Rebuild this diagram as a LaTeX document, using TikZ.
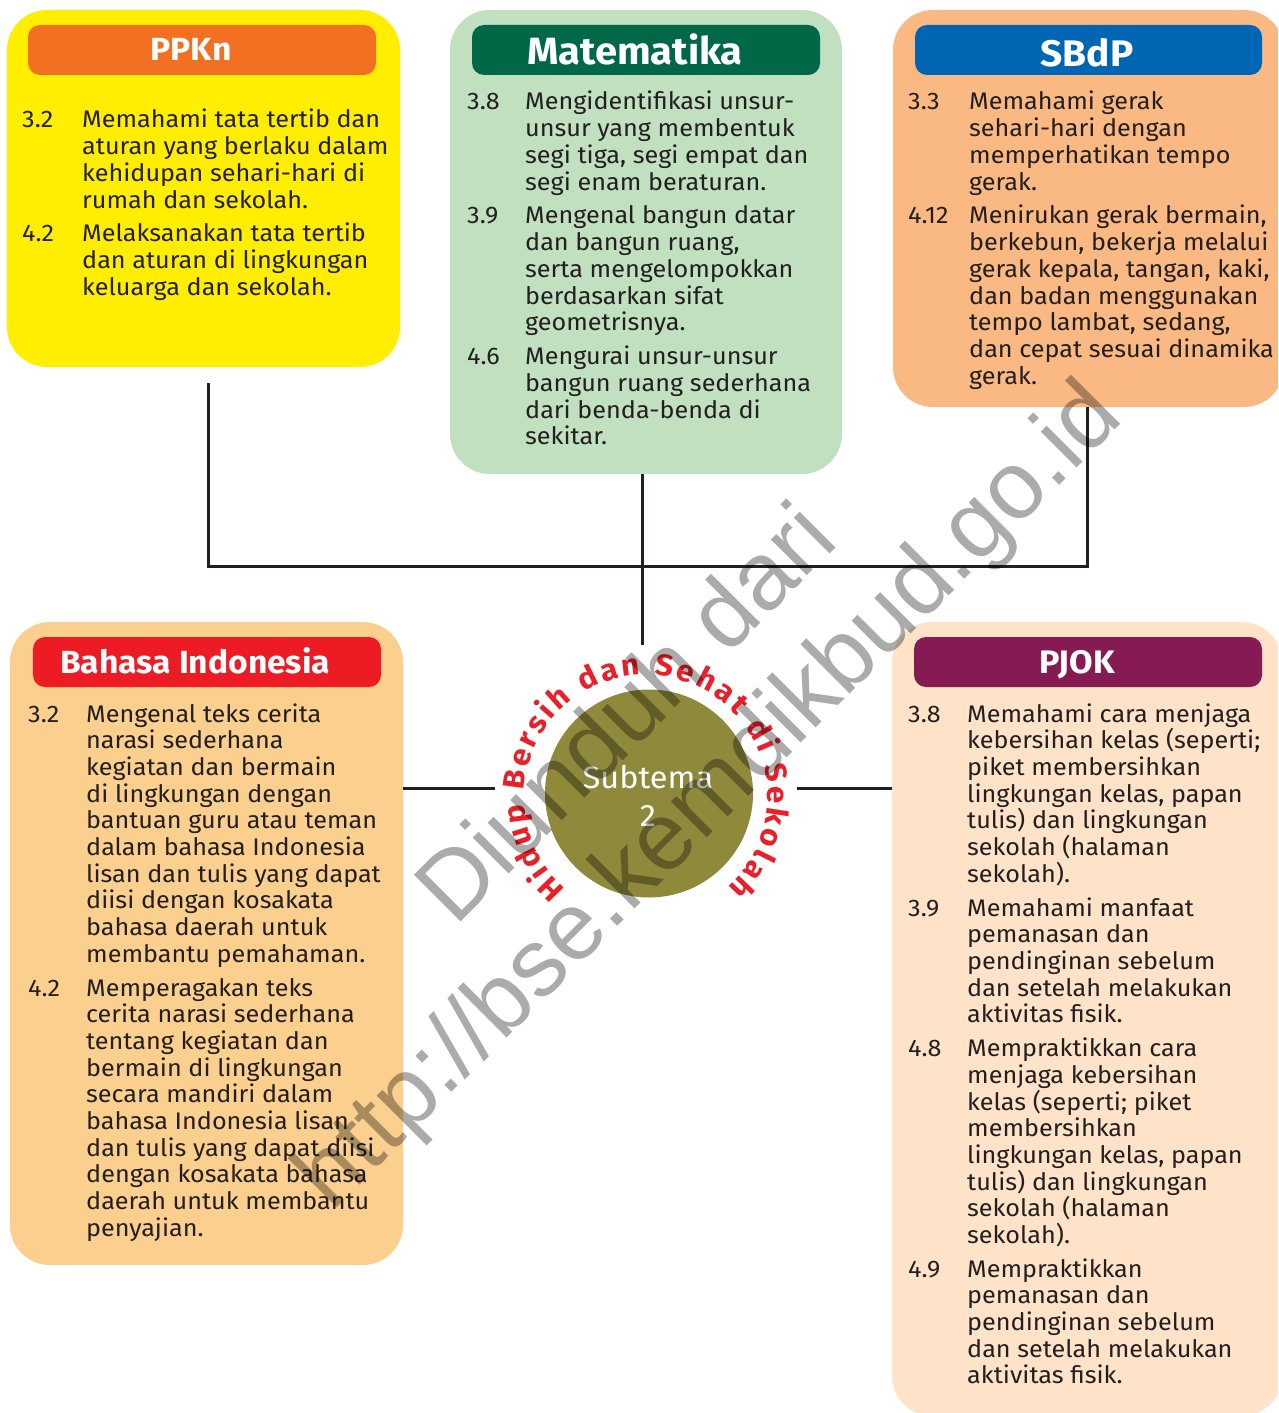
\documentclass[tikz,border=0pt]{standalone}
\usepackage{fontspec}
\setmainfont{Fira Sans}[FakeStretch=1.05]
\newfontfamily\wmfont{Liberation Sans}
\usetikzlibrary{decorations.text}
\definecolor{ink}{HTML}{231F20}
\definecolor{ppkbg}{HTML}{FFEE00}
\definecolor{ppkhd}{HTML}{F36F21}
\definecolor{matbg}{HTML}{C0E0C0}
\definecolor{mathd}{HTML}{006747}
\definecolor{sbdbg}{HTML}{FAB982}
\definecolor{sbdhd}{HTML}{0066B3}
\definecolor{bhsbg}{HTML}{FBCF8E}
\definecolor{bhshd}{HTML}{ED1C24}
\definecolor{pjkbg}{HTML}{FEE3C8}
\definecolor{pjkhd}{HTML}{861B54}
\definecolor{olive}{HTML}{8F8A3B}
\definecolor{redtxt}{HTML}{E8202A}
\newcommand\bodyfont{\fontsize{24bp}{26.67bp}\selectfont}
\newcommand\ROW[1]{\hbox{#1}}
\newcommand\kdi[6]{%
  \node[num] (#1-n) at (#2,-#4) {#5};
  \node[num] (#1-t) at (#3,-#4) {\vtop{#6}};
}
\begin{document}
\begin{tikzpicture}[x=1bp,y=1bp,
  panel/.style={rounded corners=40bp, inner sep=0, draw=none},
  hdr/.style={rounded corners=12bp, inner sep=0, minimum width=348bp, minimum height=50bp},
  hlabel/.style={inner sep=0, anchor=base, text=white, font=\fontsize{32bp}{36bp}\selectfont\bfseries},
  num/.style={inner sep=0, anchor=base west, font=\bodyfont, text=ink},
  conn/.style={draw=ink, line width=3bp}]
\useasboundingbox (0,0) rectangle (1278,-1413);
\clip (0,0) rectangle (1278,-1413);
% panels
\node[panel, fill=ppkbg, minimum width=393bp, minimum height=357bp] (ppkn) at (203.5,-188.5) {};
\node[panel, fill=matbg, minimum width=392bp, minimum height=464bp] (mat) at (646,-242) {};
\node[panel, fill=sbdbg, minimum width=391bp, minimum height=397bp] (sbdp) at (1088.5,-208.5) {};
\node[panel, fill=bhsbg, minimum width=393bp, minimum height=643bp] (bhs) at (206.5,-943.5) {};
\node[panel, fill=pjkbg, minimum width=390bp, minimum height=794bp] (pjok) at (1087,-1019) {};
% headers
\node[hdr, fill=ppkhd] (ppkn-h) at (202,-50) {};
\node[hdr, fill=mathd] (mat-h) at (646,-50) {};
\node[hdr, fill=sbdhd, minimum width=347bp] (sbdp-h) at (1088.5,-50) {};
\node[hdr, fill=bhshd] (bhs-h) at (207,-662) {};
\node[hdr, fill=pjkhd] (pjok-h) at (1088,-662) {};
\node[hlabel] (ppkn-l) at (191,-61) {PPKn};
\node[hlabel, font=\fontsize{38bp}{42bp}\selectfont\bfseries] (mat-l) at (635,-65) {Matematika};
\node[hlabel, font=\fontsize{37bp}{40bp}\selectfont\bfseries] (sbdp-l) at (1087,-66.7) {SBdP};
\node[hlabel, anchor=base west] (bhs-l) at (60,-673) {Bahasa Indonesia};
\node[hlabel, font=\fontsize{32.5bp}{36bp}\selectfont\bfseries] (pjok-l) at (1077,-673) {PJOK};
% connectors
\coordinate (pa) at (208,-383);
\coordinate (ja) at (208,-566);
\coordinate (jb) at (1087,-566);
\coordinate (jm) at (642,-566);
\coordinate (mtop) at (642,-645);
\coordinate (lh) at (495,-788);
\coordinate (rh) at (797,-788);
\draw[conn] (pa) -- (ja) -- (jb) -- (sbdp.south -| jb);
\draw[conn] (mat.south -| jm) -- (mtop);
\draw[conn] (bhs.east |- lh) -- (lh);
\draw[conn] (rh) -- (pjok.west |- rh);
% centre
\node[circle, fill=olive, minimum size=208bp, inner sep=0] (sub) at (649,-793.5) {};
\node[inner sep=0, anchor=base, text=white, font=\fontsize{31bp}{34bp}\selectfont] (sub-a) at (648,-788) {Subtema};
\node[inner sep=0, anchor=base, text=white, font=\fontsize{31bp}{34bp}\selectfont] (sub-b) at (648,-826) {2};
\path[decorate, decoration={text along path, text align=fit to path, text color=redtxt,
  text={|\fontsize{30bp}{32bp}\selectfont\bfseries|Hidup Bersih dan Sehat di Sekolah}}]
  (646,-797) ++(229:122) arc[start angle=229, end angle=-48, radius=122];
% PPKn
\kdi{p1}{22}{82}{128}{3.2}{\ROW{Memahami tata tertib dan}\ROW{aturan yang berlaku dalam}\ROW{kehidupan sehari-hari di}\ROW{rumah dan sekolah.}}
\kdi{p2}{22}{82}{242}{4.2}{\ROW{Melaksanakan tata tertib}\ROW{dan aturan di lingkungan}\ROW{keluarga dan sekolah.}}
% Matematika
\kdi{m1}{467}{525}{110}{3.8}{\ROW{Mengidentifikasi unsur-}\ROW{unsur yang membentuk}\ROW{segi tiga, segi empat dan}\ROW{segi enam beraturan.}}
\kdi{m2}{467}{525}{224}{3.9}{\ROW{Mengenal bangun datar}\ROW{dan bangun ruang,}\ROW{serta mengelompokkan}\ROW{berdasarkan sifat}\ROW{geometrisnya.}}
\kdi{m3}{467}{525}{364.7}{4.6}{\ROW{Mengurai unsur-unsur}\ROW{bangun ruang sederhana}\ROW{dari benda-benda di}\ROW{sekitar.}}
% SBdP
\kdi{s1}{908}{969}{110}{3.3}{\ROW{Memahami gerak}\ROW{sehari-hari dengan}\ROW{memperhatikan tempo}\ROW{gerak.}}
\kdi{s2}{908}{969}{224}{4.12}{\ROW{Menirukan gerak bermain,}\ROW{berkebun, bekerja melalui}\ROW{gerak kepala, tangan, kaki,}\ROW{dan badan menggunakan}\ROW{tempo lambat, sedang,}\ROW{dan cepat sesuai dinamika}\ROW{gerak.}}
% Bahasa Indonesia
\kdi{b1}{28}{86}{722}{3.2}{\ROW{Mengenal teks cerita}\ROW{narasi sederhana}\ROW{kegiatan dan bermain}\ROW{di lingkungan dengan}\ROW{bantuan guru atau teman}\ROW{dalam bahasa Indonesia}\ROW{lisan dan tulis yang dapat}\ROW{diisi dengan kosakata}\ROW{bahasa daerah untuk}\ROW{membantu pemahaman.}}
\kdi{b2}{28}{86}{996}{4.2}{\ROW{Memperagakan teks}\ROW{cerita narasi sederhana}\ROW{tentang kegiatan dan}\ROW{bermain di lingkungan}\ROW{secara mandiri dalam}\ROW{bahasa Indonesia lisan}\ROW{dan tulis yang dapat diisi}\ROW{dengan kosakata bahasa}\ROW{daerah untuk membantu}\ROW{penyajian.}}
% PJOK
\kdi{j1}{908}{967}{722}{3.8}{\ROW{Memahami cara menjaga}\ROW{kebersihan kelas (seperti;}\ROW{piket membersihkan}\ROW{lingkungan kelas, papan}\ROW{tulis) dan lingkungan}\ROW{sekolah (halaman}\ROW{sekolah).}}
\kdi{j2}{908}{967}{916}{3.9}{\ROW{Memahami manfaat}\ROW{pemanasan dan}\ROW{pendinginan sebelum}\ROW{dan setelah melakukan}\ROW{aktivitas fisik.}}
\kdi{j3}{908}{967}{1056.7}{4.8}{\ROW{Mempraktikkan cara}\ROW{menjaga kebersihan}\ROW{kelas (seperti; piket}\ROW{membersihkan}\ROW{lingkungan kelas, papan}\ROW{tulis) dan lingkungan}\ROW{sekolah (halaman}\ROW{sekolah).}}
\kdi{j4}{908}{967}{1277.3}{4.9}{\ROW{Mempraktikkan}\ROW{pemanasan dan}\ROW{pendinginan sebelum}\ROW{dan setelah melakukan}\ROW{aktivitas fisik.}}
% watermark
\node[rotate=45, align=center, inner sep=0, text=black, text opacity=0.33,
  font=\wmfont\fontsize{96bp}{114bp}\selectfont] (wm) at (671,-758) {Diunduh dari\\http://bse.kemdikbud.go.id};
\end{tikzpicture}
\end{document}
